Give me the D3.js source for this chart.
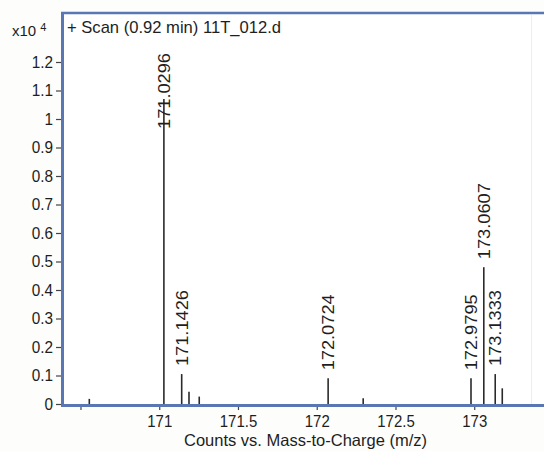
<!DOCTYPE html>
<html>
<head>
<meta charset="utf-8">
<script src="https://cdn.jsdelivr.net/npm/d3@7"></script>
<style>
  html, body { margin: 0; padding: 0; background: #fdfdfb; }
  svg { display: block; }
  text { font-family: "Liberation Sans", Arial, sans-serif; fill: #1e1e1e; }
</style>
</head>
<body>
<svg id="chart" width="544" height="451"></svg>
<script>
// Mass spectrum: m/z positions and intensities (x10^4 counts)
const peakMz        = [170.556, 171.0296, 171.1426, 171.189, 171.254, 172.0724, 172.295, 172.9795, 173.0607, 173.1333, 173.178];
const peakIntensity = [0.018,   1.07,     0.105,    0.043,   0.026,   0.090,    0.020,   0.090,    0.480,    0.105,    0.055];
const peakLabels    = ["",      "171.0296","171.1426","",     "",      "172.0724","",      "172.9795","173.0607","173.1333",""];

const xTickValues = [170.5, 171, 171.5, 172, 172.5, 173];
const xTickLabels = ["", "171", "171.5", "172", "172.5", "173"];
const yTickValues = [0, 0.1, 0.2, 0.3, 0.4, 0.5, 0.6, 0.7, 0.8, 0.9, 1, 1.1, 1.2];
const yTickLabels = ["0", "0.1", "0.2", "0.3", "0.4", "0.5", "0.6", "0.7", "0.8", "0.9", "1", "1.1", "1.2"];

const titleText = "+ Scan (0.92 min) 11T_012.d";
const xAxisTitle = "Counts vs. Mass-to-Charge (m/z)";

const frame = { left: 63, top: 13, right: 544, bottom: 405 };
const frameBlue = "#5877b3";

const svg = d3.select("#chart");

const x = d3.scaleLinear().domain([170.389, 173.443]).range([frame.left, frame.right]);
const y = d3.scaleLinear().domain([0, 1]).range([404, 119]);

// plot area
svg.append("rect")
  .attr("x", frame.left).attr("y", frame.top)
  .attr("width", frame.right - frame.left).attr("height", frame.bottom - frame.top)
  .attr("fill", "#ffffff");

// condense a text node horizontally to a fraction of its natural width
function condense(sel, k) {
  sel.each(function () {
    const w = this.getComputedTextLength();
    if (w > 0) d3.select(this).attr("textLength", w * k).attr("lengthAdjust", "spacingAndGlyphs");
  });
}

// y axis
const yAxis = d3.axisLeft(y)
  .tickValues(yTickValues)
  .tickFormat((d, i) => yTickLabels[i])
  .tickSizeInner(6).tickSizeOuter(0).tickPadding(3);
const gy = svg.append("g").attr("transform", `translate(${frame.left - 1},0)`).call(yAxis);
gy.select(".domain").remove();
gy.selectAll(".tick line").attr("stroke", "#444").attr("stroke-width", 1.2);
gy.selectAll(".tick text").attr("font-size", 17).attr("fill", "#1e1e1e")
  .attr("font-family", "Liberation Sans, Arial, sans-serif").call(condense, 0.9);

// x axis
const xAxis = d3.axisBottom(x)
  .tickValues(xTickValues)
  .tickFormat((d, i) => xTickLabels[i])
  .tickSizeInner(5).tickSizeOuter(0).tickPadding(5);
const gx = svg.append("g").attr("transform", `translate(0,${frame.bottom})`).call(xAxis);
gx.select(".domain").remove();
gx.selectAll(".tick line").attr("stroke", "#444").attr("stroke-width", 1.2);
gx.selectAll(".tick text").attr("font-size", 17).attr("fill", "#1e1e1e")
  .attr("font-family", "Liberation Sans, Arial, sans-serif").call(condense, 0.88);

// peaks
svg.append("g").selectAll("line")
  .data(peakMz)
  .join("line")
  .attr("x1", d => x(d)).attr("x2", d => x(d))
  .attr("y1", y(0)).attr("y2", (d, i) => y(peakIntensity[i]))
  .attr("stroke", "#2a2a2a").attr("stroke-width", 1.6);

// peak annotations, rotated and kept below the title band
const labelLen = 76;
svg.append("g").selectAll("text")
  .data(peakMz.map((m, i) => ({ m, v: peakIntensity[i], t: peakLabels[i] })).filter(d => d.t))
  .join("text")
  .attr("transform", d => {
    const base = Math.max(y(d.v) - 8, frame.top + 40 + labelLen);
    return `translate(${x(d.m)},${base}) rotate(-90)`;
  })
  .attr("dy", "0.35em")
  .attr("font-size", 17)
  .attr("textLength", labelLen).attr("lengthAdjust", "spacingAndGlyphs")
  .text(d => d.t);

// frame: left, top and baseline strokes
svg.append("line").attr("x1", frame.left - 0.5).attr("x2", frame.left - 0.5)
  .attr("y1", frame.top).attr("y2", frame.bottom + 2)
  .attr("stroke", frameBlue).attr("stroke-width", 3);
svg.append("line").attr("x1", frame.left - 2).attr("x2", frame.right)
  .attr("y1", frame.top).attr("y2", frame.top)
  .attr("stroke", frameBlue).attr("stroke-width", 2.5);
svg.append("line").attr("x1", frame.left - 2).attr("x2", frame.right)
  .attr("y1", frame.bottom + 0.5).attr("y2", frame.bottom + 0.5)
  .attr("stroke", frameBlue).attr("stroke-width", 3);
svg.append("line").attr("x1", 531.5).attr("x2", 531.5)
  .attr("y1", frame.top + 2).attr("y2", frame.bottom - 1)
  .attr("stroke", "#f3efdc").attr("stroke-width", 1);

// scan title
svg.append("text").attr("x", 67).attr("y", 33).attr("font-size", 17)
  .attr("textLength", 214).attr("lengthAdjust", "spacingAndGlyphs")
  .text(titleText);

// intensity multiplier
const mult = svg.append("text").attr("x", 12).attr("y", 36).attr("font-size", 15);
mult.append("tspan").text("x10 ");
mult.append("tspan").attr("font-size", 11).attr("dy", -5).text("4");

// x axis title
svg.append("text").attr("x", 184).attr("y", 446).attr("font-size", 16.5)
  .attr("textLength", 243).attr("lengthAdjust", "spacingAndGlyphs")
  .text(xAxisTitle);
</script>
</body>
</html>
